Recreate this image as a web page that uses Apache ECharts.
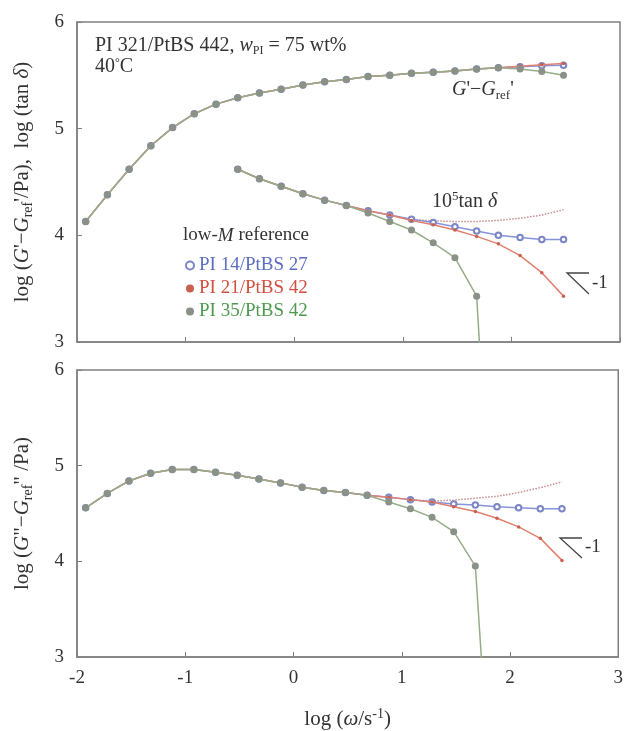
<!DOCTYPE html>
<html><head><meta charset="utf-8">
<script src="https://cdn.jsdelivr.net/npm/echarts@6/dist/echarts.min.js"></script>
<style>html,body{margin:0;padding:0;background:#fff}#c{width:626px;height:731px}</style>
</head><body><div id="c"></div>
<script>
// log(omega / s^-1)
const logw = [-1.92,-1.72,-1.52,-1.32,-1.12,-0.92,-0.72,-0.52,-0.32,-0.12,0.08,0.28,0.48,0.68,0.88,1.08,1.28,1.48,1.68,1.88,2.08,2.28,2.48];
const xTicks = [-2,-1,0,1,2,3];
const yTicks = [3,4,5,6];
const refNames = ['PI 14/PtBS 27','PI 21/PtBS 42','PI 35/PtBS 42'];
// top panel: log(G' - G'ref)
const gpBlue  = [4.13,4.38,4.62,4.84,5.01,5.14,5.23,5.29,5.335,5.37,5.41,5.44,5.46,5.49,5.50,5.52,5.53,5.54,5.56,5.57,5.58,5.59,5.595];
const gpRed   = [4.13,4.38,4.62,4.84,5.01,5.14,5.23,5.29,5.335,5.37,5.41,5.44,5.46,5.49,5.50,5.52,5.53,5.54,5.56,5.57,5.585,5.60,5.61];
const gpGreen = [4.13,4.38,4.62,4.84,5.01,5.14,5.23,5.29,5.335,5.37,5.41,5.44,5.46,5.49,5.50,5.52,5.53,5.54,5.56,5.57,5.56,5.535,5.50];
// top panel: log(10^5 tan delta)
const tdBlue  = [null,null,null,null,null,null,null,4.62,4.53,4.46,4.39,4.33,4.28,4.23,4.19,4.15,4.12,4.08,4.04,4.00,3.98,3.96,3.96];
const tdRed   = [null,null,null,null,null,null,null,4.62,4.53,4.46,4.39,4.33,4.28,4.23,4.19,4.14,4.10,4.05,3.99,3.92,3.81,3.65,3.43];
const tdGreen = [null,null,null,null,null,null,null,4.62,4.53,4.46,4.39,4.33,4.28,4.21,4.13,4.05,3.93,3.79,3.43,0.0,null,null,null];
const tdRaw   = [null,null,null,null,null,null,null,null,null,null,null,null,null,null,4.19,4.15,4.135,4.13,4.13,4.14,4.16,4.19,4.24];
// bottom panel: log(G'' - G''ref)
const gppBlue  = [4.56,4.71,4.84,4.92,4.96,4.96,4.93,4.90,4.86,4.82,4.775,4.74,4.72,4.69,4.67,4.645,4.62,4.60,4.59,4.57,4.56,4.55,4.55];
const gppRed   = [4.56,4.71,4.84,4.92,4.96,4.96,4.93,4.90,4.86,4.82,4.775,4.74,4.72,4.69,4.67,4.645,4.62,4.57,4.52,4.45,4.36,4.24,4.01];
const gppGreen = [4.56,4.71,4.84,4.92,4.96,4.96,4.93,4.90,4.86,4.82,4.775,4.74,4.72,4.69,4.62,4.55,4.46,4.31,3.95,0.5,null,null,null];
const gppRaw   = [null,null,null,null,null,null,null,null,null,null,null,null,null,null,null,4.645,4.63,4.64,4.66,4.68,4.72,4.77,4.83];

const FONT = 'Liberation Serif';
const pairs = arr => logw.map((x,i)=>[x,arr[i]]).filter(p=>p[1]!==null);

const sty = {
  blue:  {line:'#8793da', sym:'emptyCircle', size:5.5, item:{color:'#7a86c6', borderWidth:1}},
  red:   {line:'#e2806f', sym:'circle', size:3.5, item:{color:'#c8604f'}},
  green: {line:'#97ad88', sym:'circle', size:7, item:{color:'#8a9288'}}
};
function mk(name, arr, s, axis, z){
  return {name, type:'line', xAxisIndex:axis, yAxisIndex:axis, data:pairs(arr),
    symbol:s.sym, symbolSize:s.size, showSymbol:true, clip:true, z:z,
    lineStyle:{color:s.line, width:1.5}, itemStyle:s.item, emphasis:{disabled:true}, animation:false};
}
function raw(arr, axis){
  return {name:'raw', type:'line', xAxisIndex:axis, yAxisIndex:axis, data:pairs(arr),
    symbol:'none', lineStyle:{color:'#c98a8c', width:1.5, type:'dotted'}, z:1, animation:false};
}

const baseRich = {
  r:{fontFamily:FONT, fontSize:21, color:'#333', lineHeight:25},
  i:{fontFamily:FONT, fontSize:21, color:'#333', fontStyle:'italic', lineHeight:25},
  sub:{fontFamily:FONT, fontSize:14, color:'#333', verticalAlign:'bottom'},
  sup:{fontFamily:FONT, fontSize:14, color:'#333', verticalAlign:'top'}
};

function xAx(grid, showLabel){
  return {type:'value', gridIndex:grid, min:-2, max:3, interval:1,
    axisLine:{show:true, onZero:false, lineStyle:{color:'#808080', width:1.5}},
    axisTick:{show:true, inside:true, length:5, lineStyle:{color:'#808080'}},
    splitLine:{show:false},
    axisLabel:{show:showLabel, fontFamily:FONT, fontSize:19, color:'#333', margin:12,
      formatter: v => xTicks.includes(v) ? String(v) : ''},
    name: showLabel ? '{r|log (}{i|ω}{r|/s}{sup|-1}{r|)}' : '',
    nameLocation:'middle', nameGap:50, nameTextStyle:{rich:baseRich}
  };
}
function yAx(grid, name, gap){
  return {type:'value', gridIndex:grid, min:3, max:6, interval:1,
    axisLine:{show:true, onZero:false, lineStyle:{color:'#808080', width:1.5}},
    axisTick:{show:true, inside:true, length:5, lineStyle:{color:'#808080'}},
    splitLine:{show:false},
    axisLabel:{fontFamily:FONT, fontSize:19, color:'#333', margin:13,
      formatter: v => yTicks.includes(v) ? String(v) : ''},
    name:name, nameLocation:'middle', nameGap:gap, nameTextStyle:{rich:baseRich}
  };
}

const chart = echarts.init(document.getElementById('c'), null, {renderer:'canvas'});
chart.setOption({
  animation:false,
  backgroundColor:'#fff',
  grid:[
    {left:77, right:6, top:22, height:320, show:true, borderColor:'#808080', borderWidth:1.5},
    {left:77, right:6, top:370, height:290, show:true, borderColor:'#808080', borderWidth:1.5}
  ],
  xAxis:[xAx(0,false), xAx(1,true)],
  yAxis:[
    yAx(0, "{r|log (}{i|G}{r|'−}{i|G}{sub|ref}{r|'/Pa),  log (tan }{i|δ}{r|)}", 42),
    yAx(1, '{r|log (}{i|G}{r|"−}{i|G}{sub|ref}{r|" /Pa)}', 42)
  ],
  legend:{
    orient:'vertical', left:180, top:251, itemGap:4, itemWidth:8, itemHeight:8,
    selectedMode:false,
    textStyle:{fontFamily:FONT, fontSize:19},
    data:[
      {name:refNames[0], icon:'emptyCircle', itemStyle:{color:'#7a86c6', borderColor:'#7a86c6', borderWidth:1}, textStyle:{color:'#5b6ec4'}},
      {name:refNames[1], icon:'circle', itemStyle:{color:'#c8604f'}, textStyle:{color:'#d2503f'}},
      {name:refNames[2], icon:'circle', itemStyle:{color:'#8a9288'}, textStyle:{color:'#4d9a4f'}}
    ]
  },
  series:[
    raw(tdRaw,0),
    mk(refNames[0], gpBlue, sty.blue, 0, 2),
    mk(refNames[1], gpRed, sty.red, 0, 3),
    mk(refNames[2], gpGreen, sty.green, 0, 4),
    mk(refNames[0], tdBlue, sty.blue, 0, 2),
    mk(refNames[1], tdRed, sty.red, 0, 3),
    mk(refNames[2], tdGreen, sty.green, 0, 4),
    raw(gppRaw,1),
    mk(refNames[0], gppBlue, sty.blue, 1, 2),
    mk(refNames[1], gppRed, sty.red, 1, 3),
    mk(refNames[2], gppGreen, sty.green, 1, 4)
  ],
  graphic:[
    {type:'text', left:95, top:36, style:{
      text:'{r|PI 321/PtBS 442, }{i|w}{sub|PI}{r| = 75 wt%}\n{r|40}{sup|°}{r|C}',
      rich:{
        r:{fontFamily:FONT, fontSize:20, fill:'#333', color:'#333', lineHeight:21},
        i:{fontFamily:FONT, fontSize:20, fill:'#333', color:'#333', fontStyle:'italic', lineHeight:21},
        sub:{fontFamily:FONT, fontSize:12, fill:'#333', color:'#333', verticalAlign:'bottom'},
        sup:{fontFamily:FONT, fontSize:12, fill:'#333', color:'#333', verticalAlign:'top'}
      }}},
    {type:'text', left:452, top:80, style:{
      text:"{i|G}{r|'−}{i|G}{sub|ref}{r|'}",
      rich:{
        r:{fontFamily:FONT, fontSize:20, fill:'#333', lineHeight:24},
        i:{fontFamily:FONT, fontSize:20, fill:'#333', fontStyle:'italic', lineHeight:24},
        sub:{fontFamily:FONT, fontSize:13, fill:'#333', verticalAlign:'bottom'}
      }}},
    {type:'text', left:432, top:190, style:{
      text:'{r|10}{sup|5}{r|tan }{i|δ}',
      rich:{
        r:{fontFamily:FONT, fontSize:20, fill:'#333', lineHeight:24},
        i:{fontFamily:FONT, fontSize:20, fill:'#333', fontStyle:'italic', lineHeight:24},
        sup:{fontFamily:FONT, fontSize:13, fill:'#333', verticalAlign:'top'}
      }}},
    {type:'text', left:183, top:226, style:{
      text:'{r|low-}{i|M}{r| reference}',
      rich:{
        r:{fontFamily:FONT, fontSize:19, fill:'#333'},
        i:{fontFamily:FONT, fontSize:19, fill:'#333', fontStyle:'italic'}
      }}},
    {type:'polyline', shape:{points:[[589,273],[567,273],[589,294]]}, style:{stroke:'#444', lineWidth:1.3, fill:null}},
    {type:'text', left:592, top:274, style:{text:'-1', font:'19px "Liberation Serif"', fill:'#333'}},
    {type:'polyline', shape:{points:[[582,538],[560,538],[582,558]]}, style:{stroke:'#444', lineWidth:1.3, fill:null}},
    {type:'text', left:585, top:538, style:{text:'-1', font:'19px "Liberation Serif"', fill:'#333'}}
  ]
});
</script>
</body></html>
